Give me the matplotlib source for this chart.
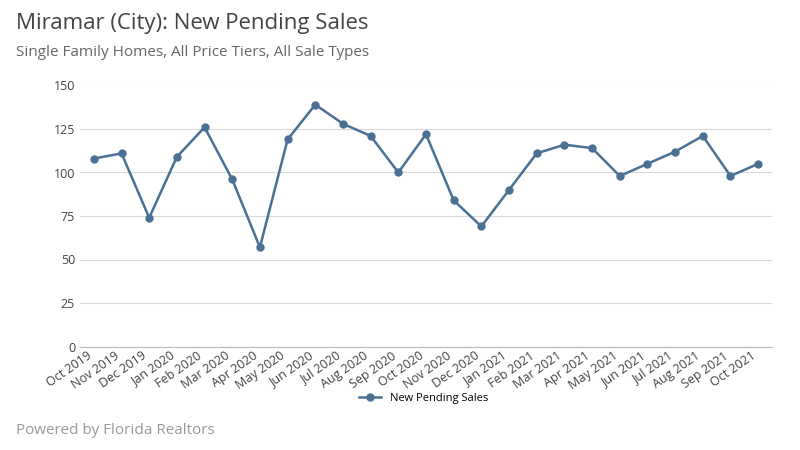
import matplotlib
matplotlib.use("Agg")
import matplotlib.pyplot as plt

months = ["Oct 2019", "Nov 2019", "Dec 2019", "Jan 2020", "Feb 2020", "Mar 2020", "Apr 2020",
          "May 2020", "Jun 2020", "Jul 2020", "Aug 2020", "Sep 2020", "Oct 2020", "Nov 2020",
          "Dec 2020", "Jan 2021", "Feb 2021", "Mar 2021", "Apr 2021", "May 2021", "Jun 2021",
          "Jul 2021", "Aug 2021", "Sep 2021", "Oct 2021"]
pending = [108, 111, 74, 109, 126, 96, 57, 119, 139, 128, 121, 100, 122, 84, 69, 90, 111, 116,
           114, 98, 105, 112, 121, 98, 105]

plt.rcParams["font.family"] = "Open Sans"
fig = plt.figure(figsize=(8, 4.5), dpi=100)
ax = fig.add_axes([0.1, 0.23, 0.865, 0.58])

x = range(len(months))
ax.plot(x, pending, color="#4a7094", lw=1.8, marker="o", ms=5, label="New Pending Sales")
ax.set_ylim(0, 150)
ax.set_yticks(range(0, 151, 25))
ax.set_xlim(-0.5, len(months) - 0.5)
ax.set_xticks(list(x))
ax.set_xticklabels(months, rotation=35, ha="right", fontsize=9, color="#444444")
ax.tick_params(axis="y", labelsize=9, colors="#444444", length=0)
ax.tick_params(axis="x", length=0, pad=2)
ax.grid(axis="y", color="#d9d9d9", lw=0.8)
ax.set_axisbelow(True)
for s in ["top", "right", "left"]:
    ax.spines[s].set_visible(False)
ax.spines["bottom"].set_color("#bbbbbb")

fig.text(0.02, 0.935, "Miramar (City): New Pending Sales", fontsize=16, color="#444444")
fig.text(0.02, 0.875, "Single Family Homes, All Price Tiers, All Sale Types", fontsize=11, color="#666666")
fig.text(0.02, 0.035, "Powered by Florida Realtors", fontsize=11, color="#999999")
fig.legend(loc="lower center", bbox_to_anchor=(0.53, 0.08), frameon=False, fontsize=8)

fig.savefig("out.png", dpi=100)
